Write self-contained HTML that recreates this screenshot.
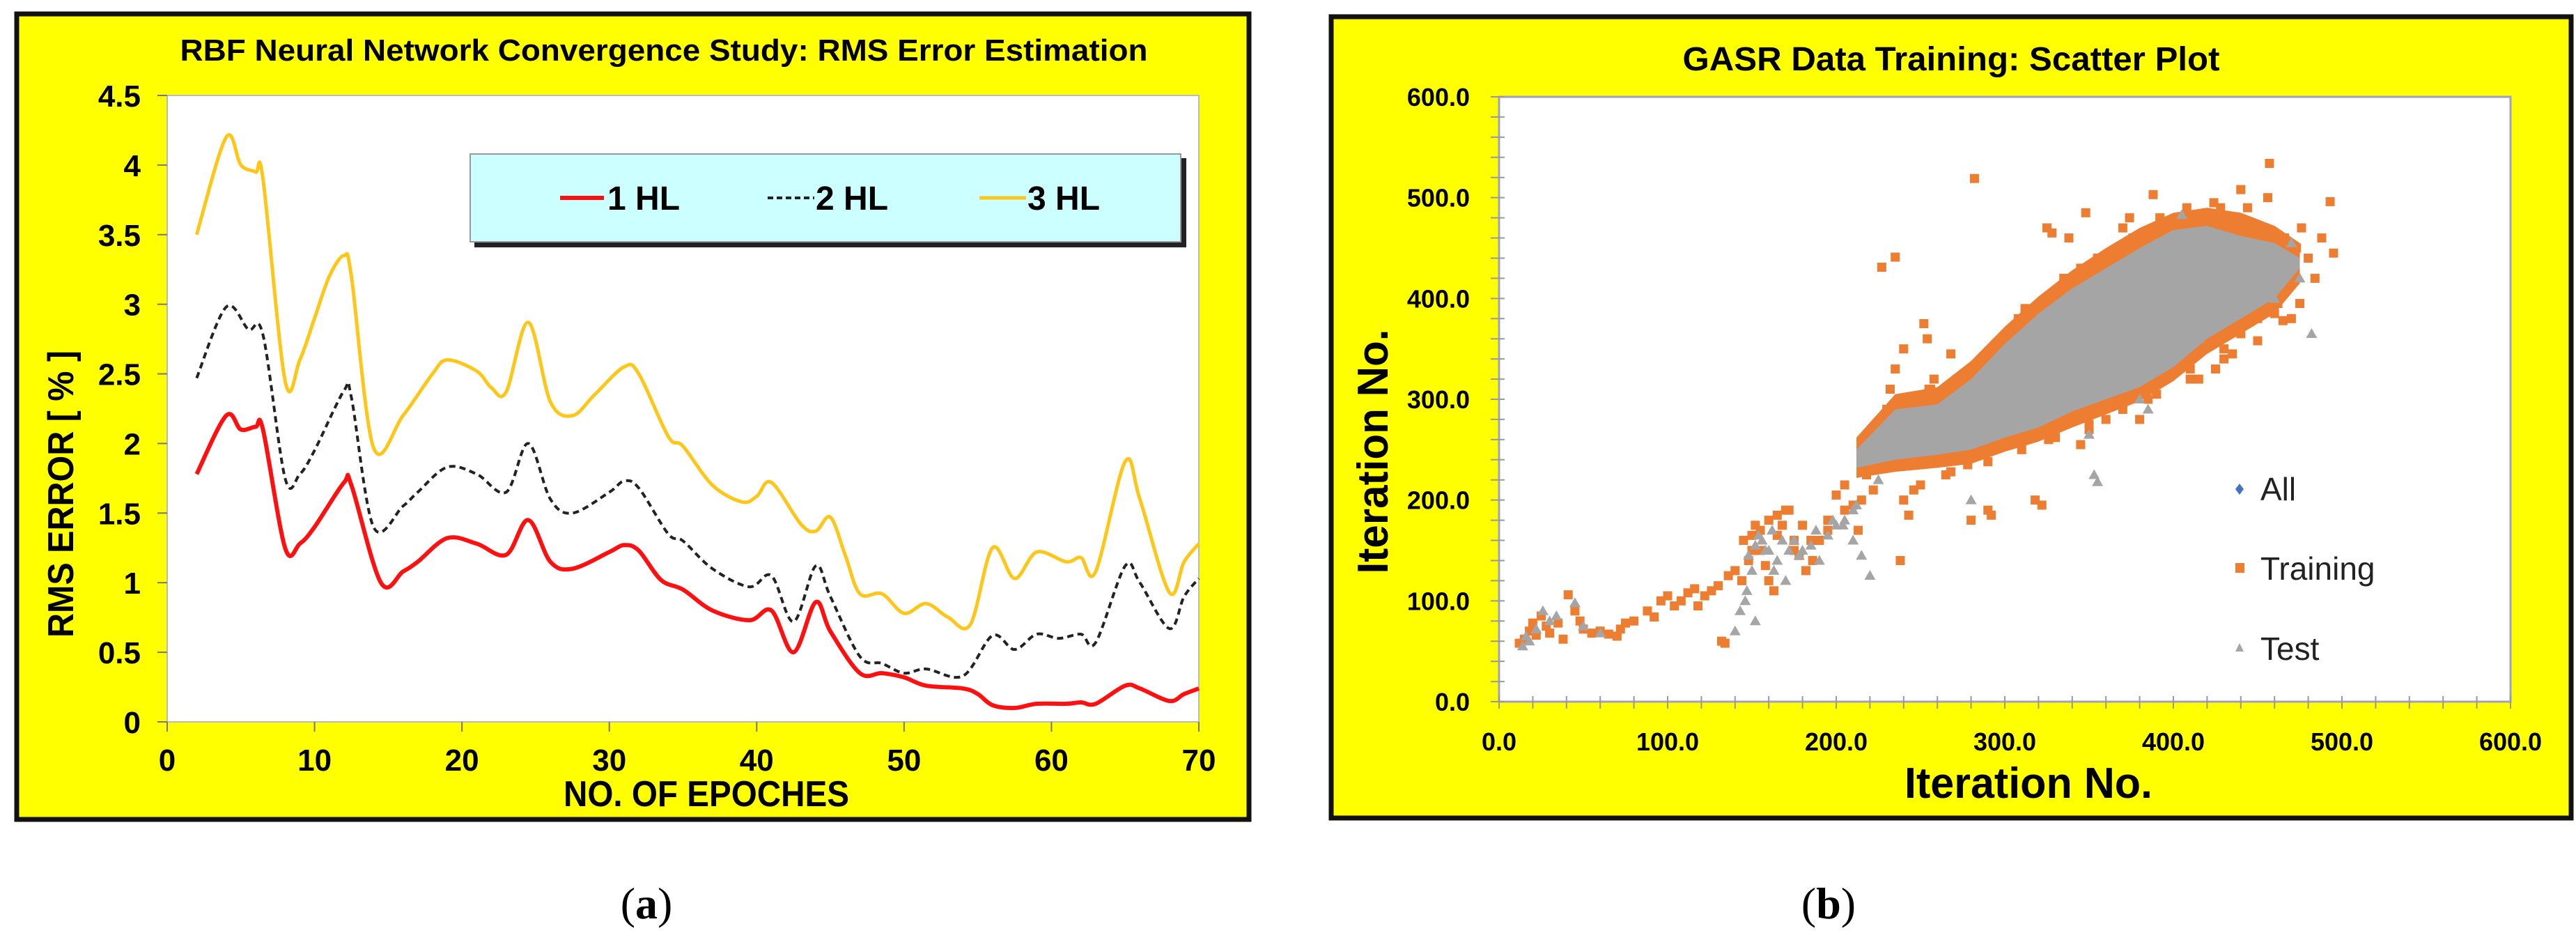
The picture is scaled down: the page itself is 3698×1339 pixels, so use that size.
<!DOCTYPE html>
<html><head><meta charset="utf-8"><style>
html,body{margin:0;padding:0;background:#fff;}
svg{display:block;}
</style></head><body>
<svg id="fig" width="3698" height="1339" viewBox="0 0 3698 1339" xmlns="http://www.w3.org/2000/svg">
<g>
<rect x="24" y="20" width="1769" height="1156" fill="#FFFF00" stroke="#111" stroke-width="7"/>
<rect x="240" y="137" width="1481" height="899" fill="#fff" stroke="#bbb" stroke-width="2"/>
<text x="953" y="87" text-anchor="middle" font-family="Liberation Sans, sans-serif" font-weight="bold" font-size="44" textLength="1389" lengthAdjust="spacingAndGlyphs">RBF Neural Network Convergence Study: RMS Error Estimation</text>
<g id="axA"></g>
<g id="linesA"></g>
<text x="1014" y="1157" text-anchor="middle" font-family="Liberation Sans, sans-serif" font-weight="bold" font-size="52" textLength="410" lengthAdjust="spacingAndGlyphs">NO. OF EPOCHES</text>
<text transform="translate(105,709) rotate(-90)" text-anchor="middle" font-family="Liberation Sans, sans-serif" font-weight="bold" font-size="52" textLength="412" lengthAdjust="spacingAndGlyphs">RMS ERROR [ % ]</text>
<g>
<rect x="681" y="227" width="1022" height="128" fill="#222"/>
<rect x="675" y="221" width="1020" height="126" fill="#CCFFFF" stroke="#999" stroke-width="2"/>
<line x1="804" y1="284" x2="867" y2="284" stroke="#FF1010" stroke-width="6"/>
<text x="872" y="301" font-family="Liberation Sans, sans-serif" font-weight="bold" font-size="48">1 HL</text>
<line x1="1102" y1="284" x2="1169" y2="284" stroke="#222" stroke-width="4" stroke-dasharray="8,5"/>
<text x="1171" y="301" font-family="Liberation Sans, sans-serif" font-weight="bold" font-size="48">2 HL</text>
<line x1="1406" y1="284" x2="1473" y2="284" stroke="#FFC61A" stroke-width="5"/>
<text x="1475" y="301" font-family="Liberation Sans, sans-serif" font-weight="bold" font-size="48">3 HL</text>
</g>
</g>
<text x="928" y="1318" text-anchor="middle" font-family="Liberation Serif, serif" font-size="64">(<tspan font-weight="bold">a</tspan>)</text>

<g>
<rect x="1911" y="24" width="1780" height="1150" fill="#FFFF00" stroke="#111" stroke-width="7"/>
<rect x="2152" y="139" width="1452" height="868" fill="#fff" stroke="#a0a0c0" stroke-width="3"/>
<text x="2801" y="101" text-anchor="middle" font-family="Liberation Sans, sans-serif" font-weight="bold" font-size="48" textLength="771" lengthAdjust="spacingAndGlyphs">GASR Data Training: Scatter Plot</text>
<g id="axB"></g>
<g id="ptsB"></g>
<text x="2912" y="1145" text-anchor="middle" font-family="Liberation Sans, sans-serif" font-weight="bold" font-size="62" textLength="356" lengthAdjust="spacingAndGlyphs">Iteration No.</text>
<text transform="translate(1992,648) rotate(-90)" text-anchor="middle" font-family="Liberation Sans, sans-serif" font-weight="bold" font-size="62" textLength="351" lengthAdjust="spacingAndGlyphs">Iteration No.</text>
<g>
<path d="M3215 694 L3221 702 L3215 710 L3209 702 Z" fill="#4472C4"/>
<text x="3245" y="718" font-family="Liberation Sans, sans-serif" font-size="46" fill="#222">All</text>
<rect x="3209" y="808" width="13" height="14" fill="#ED7D31"/>
<text x="3245" y="832" font-family="Liberation Sans, sans-serif" font-size="46" fill="#222">Training</text>
<path d="M3215 923 L3221 935 L3209 935 Z" fill="#A5A5A5"/>
<text x="3245" y="947" font-family="Liberation Sans, sans-serif" font-size="46" fill="#222">Test</text>
</g>
</g>
<text x="2625" y="1318" text-anchor="middle" font-family="Liberation Serif, serif" font-size="64">(<tspan font-weight="bold">b</tspan>)</text>
</svg>
<script>
const xTicksA = [0,10,20,30,40,50,60,70];
const yTicksA = [0,0.5,1,1.5,2,2.5,3,3.5,4,4.5];
const yTickLabelsA = ["0","0.5","1","1.5","2","2.5","3","3.5","4","4.5"];
const x3 = [2,4,5,6,6.5,8,9,10,11,12,12.5,14,16,18,19,21,22,23,24.5,26,27.5,29,31,32,34,35,37,39,40,41,43,44,45,46,47,48.5,50,51.5,53,54.5,56,57.5,59,61,62,63,65,66,68,69,70];
const y3 = [3.5,4.2,4.0,3.95,3.9,2.45,2.6,2.9,3.2,3.35,3.2,1.97,2.2,2.5,2.6,2.52,2.4,2.37,2.87,2.3,2.2,2.35,2.55,2.5,2.05,1.98,1.7,1.58,1.62,1.72,1.42,1.37,1.47,1.2,0.92,0.92,0.78,0.85,0.75,0.7,1.25,1.03,1.22,1.15,1.18,1.08,1.87,1.6,0.93,1.15,1.28];
const x2 = [2,4,5.5,6.5,8,9,10,12,12.5,14,16,17,19,21,23,24.5,26,27.5,30,31,32,34,35,37,39.5,41,42.5,44,45,47,48.5,50,51.5,54,56,57.5,59,60.5,62,63,65,66,68,69,70];
const y2 = [2.47,2.98,2.82,2.78,1.75,1.78,1.95,2.38,2.33,1.4,1.55,1.65,1.83,1.78,1.65,2.0,1.6,1.5,1.65,1.73,1.68,1.35,1.3,1.1,0.97,1.05,0.72,1.12,0.9,0.47,0.42,0.35,0.38,0.33,0.62,0.52,0.63,0.6,0.63,0.57,1.12,1.0,0.67,0.9,1.03];
const x1 = [2,4,5,6,6.5,8,9,10,12,12.5,14.5,16,17,19,21,23,24.5,26,27.5,30,31,32,33.5,35,37,39.5,41,42.5,44,45,47,48.5,50,51.5,54,55,56,57.5,59,61,62,63,65,66,68,69,70];
const y1 = [1.78,2.2,2.1,2.12,2.1,1.25,1.28,1.4,1.72,1.7,1.0,1.08,1.15,1.32,1.28,1.2,1.45,1.15,1.1,1.22,1.27,1.23,1.02,0.95,0.8,0.73,0.8,0.5,0.86,0.65,0.35,0.35,0.32,0.26,0.24,0.2,0.12,0.1,0.13,0.13,0.14,0.13,0.26,0.24,0.15,0.2,0.24];

const xTicksB = [0,100,200,300,400,500,600];
const yTicksB = [0,100,200,300,400,500,600];
const tickLabelsB = ["0.0","100.0","200.0","300.0","400.0","500.0","600.0"];
const coreX = [212,235,260,280,300,320,340,360,380,400,420,440,460,475];
const coreLo = [232,240,245,250,262,272,288,300,312,332,360,380,400,430];
const coreHi = [250,290,295,320,355,385,410,430,450,468,472,462,455,440];
const envLo = [222,228,232,236,248,258,272,285,298,318,345,365,385,415];
const envHi = [262,305,312,338,372,402,428,450,470,485,490,485,472,455];
const trainX = [12,15,18,20,22,25,28,30,35,38,41,45,48,50,55,60,65,70,72,75,80,88,92,96,100,104,108,112,116,118,122,126,130,132,134,136,140,144,148,150,152,155,158,160,163,165,168,172,175,178,182,186,190,195,200,205,210,213,215,218,222,225,228,230,232,235,238,240,243,246,250,252,254,258,262,265,268,272,275,278,282,280,285,288,290,292,295,298,300,304,308,312,315,318,322,325,328,330,335,338,342,345,348,350,355,358,362,366,370,374,378,380,385,388,392,396,400,405,410,415,418,422,428,430,435,440,444,448,452,456,460,463,466,470,473,476,480,484,488,493,495,457,235,227,240,245,255,318,326,345,360,372,395,412,425,440,450,462];
const trainY = [58,62,70,78,66,85,75,68,78,62,106,90,80,72,68,70,67,65,72,78,80,90,84,100,105,95,100,108,112,95,105,110,115,60,58,125,130,120,140,165,175,150,135,120,110,185,175,190,160,145,130,140,160,170,205,215,195,170,240,225,210,250,270,290,310,330,140,200,185,210,215,375,360,320,300,225,345,270,250,235,519,180,250,270,190,185,355,340,300,330,380,390,280,200,195,470,465,300,420,460,400,430,485,270,440,300,330,440,470,480,460,280,300,503,470,450,330,360,330,320,470,480,490,350,345,508,490,470,420,500,385,430,460,380,450,470,440,420,460,496,445,534,441,431,350,290,310,360,260,255,280,300,320,370,330,365,380,395];
const trainX2 = [145,150,155,160,165,170,175,180,185,195,205,215,225,248,256,264,276,286,296,306,316,334,352,364,376,392,408,424,268,290,310,330,350,370,390,410,430,450,465,475];
const trainY2 = [160,150,170,180,165,190,150,175,160,180,190,200,235,300,310,285,320,330,345,360,380,400,420,445,460,480,490,495,228,238,250,262,275,290,305,320,340,358,378,395];
const testX = [14,16,18,22,26,30,34,45,50,60,140,143,147,150,152,156,160,165,170,175,180,185,190,195,200,205,210,215,220,210,225,230,235,240,245,250,255,260,270,280,290,300,310,320,330,340,353,355,350,360,370,380,385,390,400,405,410,415,420,430,440,450,460,465,475,482,470,148,154,158,162,168,172,178,188,198,204,212,146,152,163];
const testY = [55,65,60,72,90,80,85,98,75,68,70,90,110,130,155,160,150,140,120,160,150,155,140,165,175,180,160,145,125,190,220,250,280,260,275,285,270,260,280,200,330,300,340,370,380,350,225,218,265,420,400,300,290,440,420,483,450,360,430,410,400,430,400,440,420,365,455,145,165,150,170,160,150,145,170,180,175,195,100,80,130];

const NS='http://www.w3.org/2000/svg';
function mk(tag, attrs, parent){const e=document.createElementNS(NS,tag);for(const k in attrs)e.setAttribute(k,attrs[k]);parent.appendChild(e);return e;}

const AX0=240, AX1=1721, AY0=1036, AY1=137;
const sxA=v=>AX0+(v-0)/70*(AX1-AX0);
const syA=v=>AY0-(v/4.5)*(AY0-AY1);
const axA=document.getElementById('axA');
xTicksA.forEach((t,i)=>{
  const l=mk('line',{x1:sxA(t),x2:sxA(t),y1:AY0,y2:AY0+14,stroke:'#777','stroke-width':2},axA);
  
  
  const tx=mk('text',{x:sxA(t),y:1106,'text-anchor':'middle','font-family':'Liberation Sans, sans-serif','font-weight':'bold','font-size':44},axA);
  tx.textContent=String(t);
  
  
});
yTicksA.forEach((t,i)=>{
  const l=mk('line',{x1:AX0-14,x2:AX0,y1:syA(t),y2:syA(t),stroke:'#777','stroke-width':2},axA);
  
  
  const tx=mk('text',{x:202,y:syA(t)+16,'text-anchor':'end','font-family':'Liberation Sans, sans-serif','font-weight':'bold','font-size':44},axA);
  tx.textContent=yTickLabelsA[i];
  
  
});
function smoothPath(xs,ys){
  const p=xs.map((x,i)=>[sxA(x),syA(ys[i])]);
  let d='M'+p[0][0]+' '+p[0][1];
  for(let i=0;i<p.length-1;i++){
    const p0=p[Math.max(0,i-1)],p1=p[i],p2=p[i+1],p3=p[Math.min(p.length-1,i+2)];
    const c1=[p1[0]+(p2[0]-p0[0])/6,p1[1]+(p2[1]-p0[1])/6];
    const c2=[p2[0]-(p3[0]-p1[0])/6,p2[1]-(p3[1]-p1[1])/6];
    d+=` C${c1[0]} ${c1[1]} ${c2[0]} ${c2[1]} ${p2[0]} ${p2[1]}`;
  }
  return d;
}
const linesA=document.getElementById('linesA');
const l3=mk('path',{d:smoothPath(x3,y3),fill:'none',stroke:'#FFC61A','stroke-width':5},linesA);


const l2=mk('path',{d:smoothPath(x2,y2),fill:'none',stroke:'#222','stroke-width':4,'stroke-dasharray':'9,6'},linesA);


const l1=mk('path',{d:smoothPath(x1,y1),fill:'none',stroke:'#FF1010','stroke-width':6},linesA);



const BX0=2152, BX1=3604, BY0=1007, BY1=139;
const sxB=v=>BX0+v/600*(BX1-BX0);
const syB=v=>BY0-v/600*(BY0-BY1);
const axB=document.getElementById('axB');
for(let v=0;v<=600;v+=20){
  const l=mk('line',{x1:sxB(v),x2:sxB(v),y1:BY0-8,y2:BY0+10,stroke:'#999','stroke-width':2},axB);
  
  
  const m=mk('line',{x1:BX0-12,x2:BX0+8,y1:syB(v),y2:syB(v),stroke:'#999','stroke-width':2},axB);
  
  
}
xTicksB.forEach((t,i)=>{
  const tx=mk('text',{x:sxB(t),y:1077,'text-anchor':'middle','font-family':'Liberation Sans, sans-serif','font-weight':'bold','font-size':36},axB);
  tx.textContent=tickLabelsB[i];
  
  
});
yTicksB.forEach((t,i)=>{
  const tx=mk('text',{x:2110,y:syB(t)+13,'text-anchor':'end','font-family':'Liberation Sans, sans-serif','font-weight':'bold','font-size':36},axB);
  tx.textContent=tickLabelsB[i];
  
  
});
const ptsB=document.getElementById('ptsB');
function band(xs,lo,hi){
  let pts=xs.map((x,i)=>sxB(x)+','+syB(hi[i]));
  pts=pts.concat(xs.map((x,i)=>sxB(x)+','+syB(lo[i])).reverse());
  return pts.join(' ');
}
const env=mk('polygon',{points:band(coreX,envLo,envHi),fill:'#ED7D31'},ptsB);


function drawTrain(xs,ys){
  const n=Math.min(xs.length,ys.length);
  for(let i=0;i<n;i++){
    const r=mk('rect',{x:sxB(xs[i])-6.5,y:syB(ys[i])-6.5,width:13,height:13,fill:'#ED7D31'},ptsB);
    
    
  }
}
drawTrain(trainX,trainY);
drawTrain(trainX2,trainY2);
const core=mk('polygon',{points:band(coreX,coreLo,coreHi),fill:'#A5A5A5'},ptsB);


const nT=Math.min(testX.length,testY.length);
for(let i=0;i<nT;i++){
  const cx=sxB(testX[i]),cy=syB(testY[i]);
  const t=mk('path',{d:`M${cx} ${cy-8} L${cx+8} ${cy+6} L${cx-8} ${cy+6} Z`,fill:'#A5A5A5'},ptsB);
  
  
}
</script>
</body></html>
